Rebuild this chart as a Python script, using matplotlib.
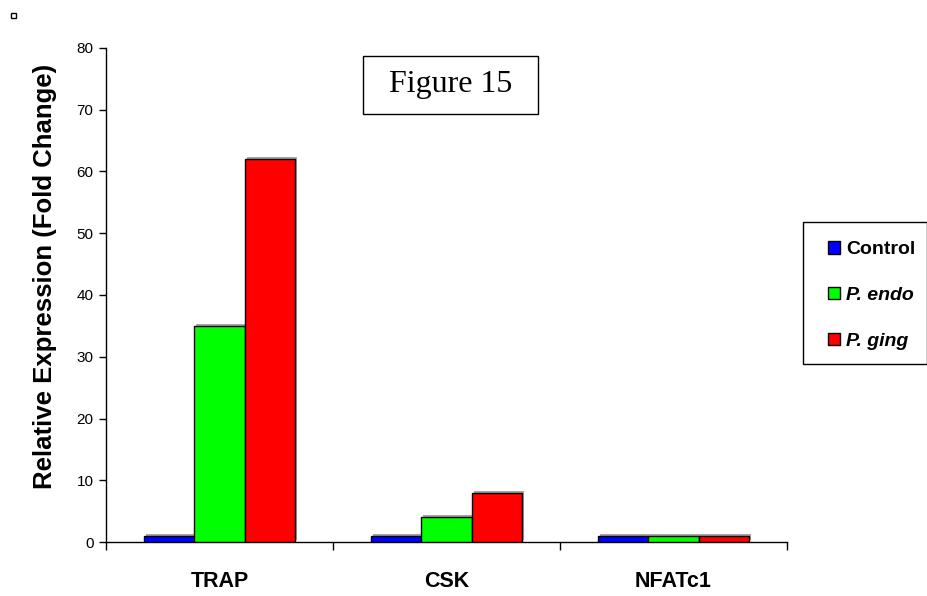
import matplotlib
matplotlib.use("Agg")
import matplotlib.pyplot as plt
import matplotlib.patheffects as pe
from matplotlib.patches import Rectangle
import numpy as np

categories = ["TRAP", "CSK", "NFATc1"]
series_names = ["Control", "P. endo", "P. ging"]
control = [1.0, 1.0, 1.0]
p_endo = [35.0, 4.0, 1.0]
p_ging = [62.0, 7.9, 1.0]
colors = ["#0000FF", "#00FF00", "#FF0000"]
y_ticks = [0, 10, 20, 30, 40, 50, 60, 70, 80]

fig = plt.figure(figsize=(9.28, 5.96), dpi=100)
W, H = 928, 596
ax = fig.add_axes([106 / W, 1 - 542 / H, (787 - 106) / W, (542 - 48) / H])

x = np.arange(len(categories))
bw = 1 / 4.5
shadow = [pe.SimplePatchShadow(offset=(1.5, 1.5), shadow_rgbFace="#808080", alpha=0.7), pe.Normal()]
for i, (vals, c, name) in enumerate(zip([control, p_endo, p_ging], colors, series_names)):
    bars = ax.bar(x + (i - 1) * bw, vals, width=bw, color=c, edgecolor="black",
                  linewidth=1.0, label=name, zorder=3)
    for b in bars:
        b.set_path_effects(shadow)

ax.set_xlim(-0.5, len(categories) - 0.5)
ax.set_ylim(0, 80)
ax.set_yticks(y_ticks)
ax.set_yticklabels([str(t) for t in y_ticks], fontsize=11, family="Liberation Sans")
ax.set_xticks(np.arange(len(categories) + 1) - 0.5)
ax.set_xticklabels([])
ax.set_xticks(x, minor=True)
ax.set_xticklabels(categories, minor=True, fontsize=15.5, fontweight="bold", family="Liberation Sans")
ax.tick_params(axis="x", which="minor", length=0, pad=21)
ax.tick_params(axis="x", which="major", length=6, width=1, direction="out")
ax.tick_params(axis="y", length=5, width=1, direction="out", pad=4)
for s in ["top", "right"]:
    ax.spines[s].set_visible(False)
for s in ["left", "bottom"]:
    ax.spines[s].set_linewidth(1.0)

ax.set_ylabel("Relative Expression (Fold Change)", fontsize=18.5, fontweight="bold",
              family="Liberation Sans")
ax.yaxis.set_label_coords((57 - 106) / 681, (542 - 276) / 494)

# Figure 15 box
fig.patches.append(Rectangle((363 / W, 1 - 114 / H), (538 - 363) / W, (114 - 56) / H,
                             transform=fig.transFigure, fill=False, edgecolor="black", linewidth=1.0))
fig.text((363 + 538) / 2 / W, 1 - 85 / H, "Figure 15", ha="center", va="center",
         fontsize=23, family="Liberation Serif")

# Legend frame
fig.patches.append(Rectangle((803 / W, 1 - 364 / H), (927 - 803) / W, (364 - 222) / H,
                             transform=fig.transFigure, fill=False, edgecolor="black", linewidth=1.0))
handles, labels = ax.get_legend_handles_labels()
leg = fig.legend(handles, labels, loc="center left", bbox_to_anchor=(811 / W, 1 - 295.5 / H),
                 frameon=False, handlelength=0.6, handleheight=0.6, handletextpad=0.3,
                 labelspacing=1.48, prop={"family": "Liberation Sans", "weight": "bold", "size": 14})
for i, t in enumerate(leg.get_texts()):
    if i > 0:
        t.set_fontstyle("italic")
for h in leg.legend_handles:
    h.set_path_effects([])

# small marker square top-left
fig.patches.append(Rectangle((11 / W, 1 - 18 / H), 5 / W, 5 / H, transform=fig.transFigure,
                             fill=False, edgecolor="black", linewidth=1.0))

fig.savefig("out.png", dpi=100)
